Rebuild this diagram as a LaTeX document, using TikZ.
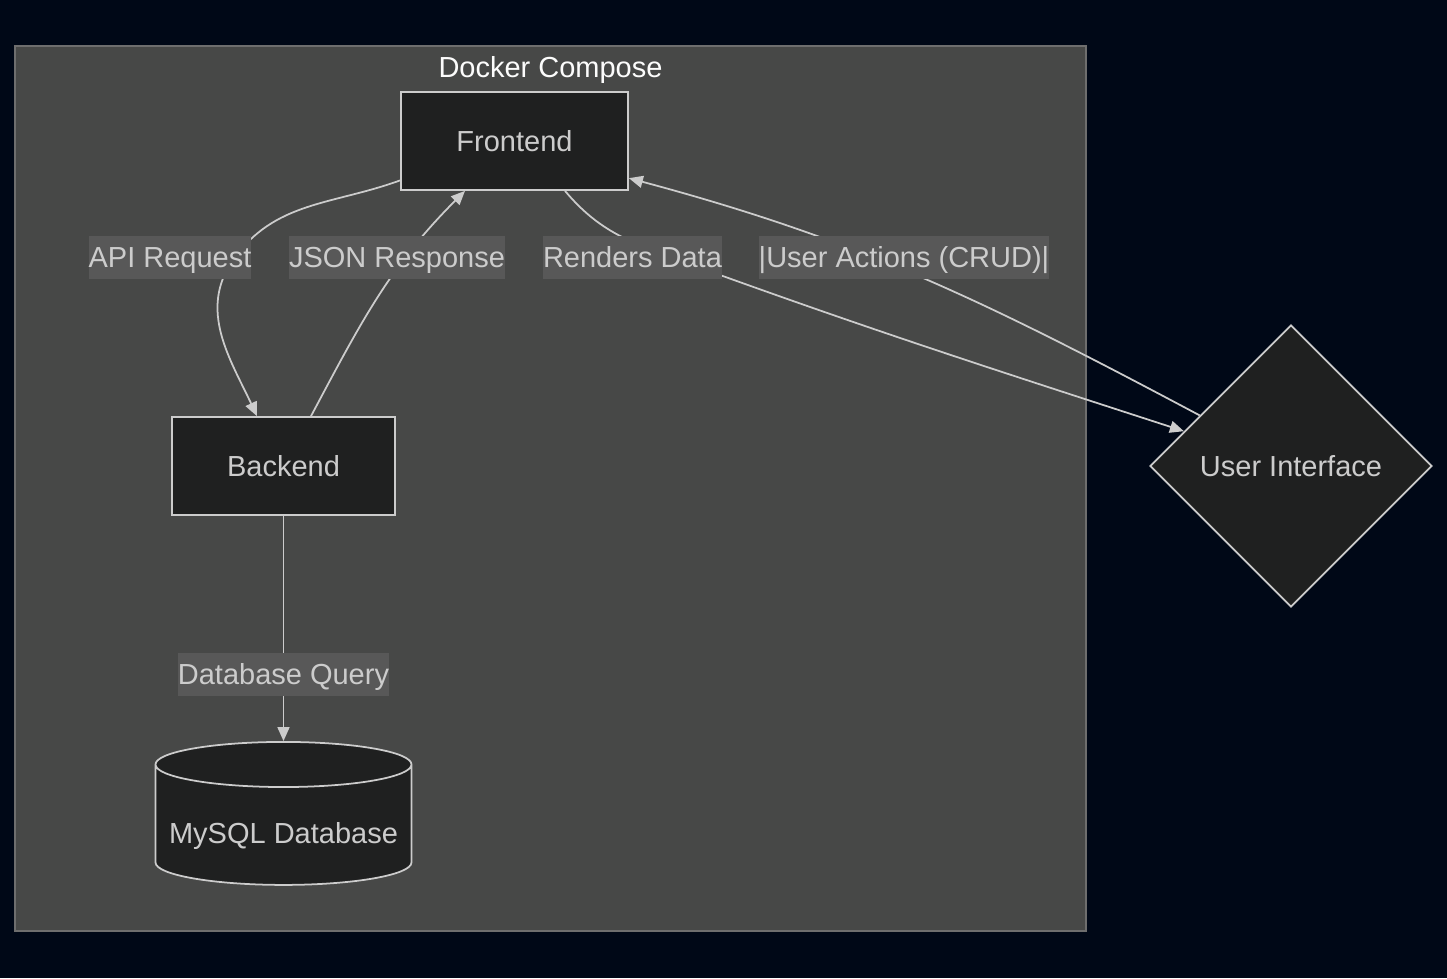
\documentclass[tikz,border=0pt]{standalone}
\usepackage{fontspec}
\setmainfont{Liberation Sans}
\usepackage{xcolor}
\usepackage{tikz}
\usetikzlibrary{shapes.geometric, arrows.meta}
\definecolor{fond}{HTML}{000817}
\definecolor{grp}{HTML}{474847}
\definecolor{grpline}{HTML}{6E6E6E}
\definecolor{nodefill}{HTML}{1F2020}
\definecolor{trait}{HTML}{CCCCCC}
\definecolor{lblfill}{HTML}{585858}
\tikzstyle{block} = [rectangle, minimum width=4.54cm, minimum height=1.96cm, text centered, draw=trait, fill=nodefill, text=trait, line width=1pt]
\tikzstyle{base} = [cylinder, shape border rotate=90, aspect=0.1875, minimum width=5.12cm, minimum height=2.86cm, text height=17pt, text depth=0pt, text centered, draw=trait, fill=nodefill, text=trait, line width=1pt]
\tikzstyle{choix} = [diamond, aspect=1, inner sep=0pt, minimum width=5.64cm, minimum height=5.64cm, text centered, draw=trait, fill=nodefill, text=trait, line width=1pt]
\tikzstyle{etiq} = [rectangle, inner xsep=0pt, minimum height=0.86cm, text height=11.9pt, text depth=0pt, fill=lblfill, text=trait]
\tikzstyle{arrow} = [draw=trait, line width=1pt, -{Triangle[length=0.28cm,width=0.24cm]}]

\begin{document}
\begin{tikzpicture}[node distance=2cm, font=\fontsize{16.5}{19}\selectfont]
        \fill[fond] (0,0) rectangle (28.94,-19.56);
        \useasboundingbox (0,0) rectangle (28.94,-19.56);
        \draw[grpline, fill=grp, line width=0.8pt] (0.3,-0.92) rectangle (21.72,-18.62);

        \node (front) [block] at (10.29,-2.82) {Frontend};
        \node (title) [above of=front, xshift=0.72cm, yshift=-0.52cm, text height=11.9pt, text depth=0pt, text=white!95!trait] {Docker Compose};
        \node (back) [block, minimum width=4.46cm, below of=front, xshift=-4.62cm, yshift=-4.5cm] {Backend};
        \node (db) [base, below of=back, yshift=-5.25cm] {MySQL Database};
        \node (ui) [choix, right of=back, xshift=18.15cm] {User Interface};

        \coordinate (wApi) at (4.66,-5.2);
        \coordinate (wRend) at (13.46,-5.16);

        \draw [arrow] (front.199) to[out=200,in=55] (wApi) to[out=235,in=115] ([xshift=-0.53cm]back.north);
        \draw [arrow] ([xshift=0.55cm]back.north) to[out=62,in=225] ([xshift=-0.99cm]front.south);
        \draw [arrow] ([xshift=1.01cm]front.south) to[out=-50,in=160] (wRend) to[out=-20,in=162] (ui.162.5);
        \draw [arrow] (ui.151.5) to[out=152,in=-15] (front.342);
        \draw [arrow] (back) -- (db);

        \node (lApi) [etiq, above of=back, xshift=-2.27cm, yshift=2.18cm] {API Request};
        \node (lJson) [etiq, above of=back, xshift=2.27cm, yshift=2.18cm] {JSON Response};
        \node (lRend) [etiq, below of=front, xshift=2.36cm, yshift=-0.32cm] {Renders Data};
        \node (lUser) [etiq, below of=front, xshift=7.79cm, yshift=-0.32cm] {|User Actions (CRUD)|};
        \node (lQuery) [etiq, below of=back, yshift=-2.17cm] {Database Query};
 \end{tikzpicture}
\end{document}
